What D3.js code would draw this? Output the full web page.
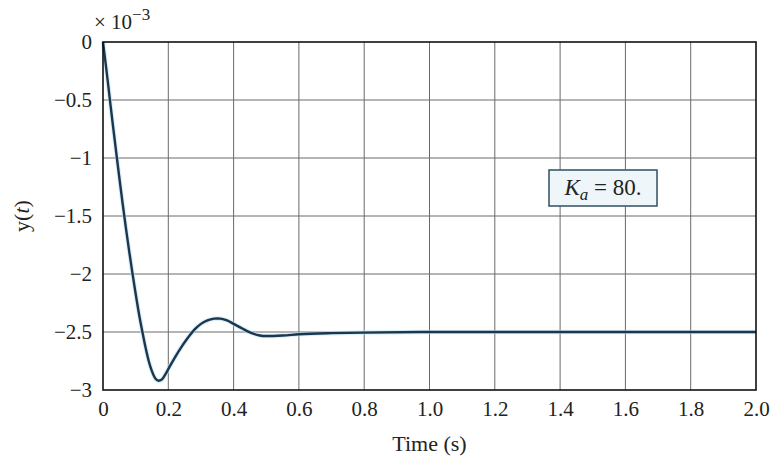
<!DOCTYPE html>
<html><head><meta charset="utf-8">
<script src="https://cdn.jsdelivr.net/npm/d3@7"></script>
<style>body{margin:0;background:#fff}</style>
</head><body>
<svg id="c" width="770" height="457"></svg>
<script>
const timeS = [0,0.01,0.02,0.03,0.04,0.05,0.06,0.07,0.08,0.09,0.10,0.11,0.12,0.13,0.14,0.15,0.16,0.17,0.18,0.19,0.20,0.22,0.24,0.26,0.28,0.30,0.32,0.34,0.35,0.36,0.38,0.40,0.42,0.44,0.46,0.48,0.50,0.55,0.60,0.70,0.80,1.0,1.5,2.0];
const yVals = [0,-0.23,-0.47,-0.71,-0.94,-1.17,-1.39,-1.60,-1.80,-1.99,-2.17,-2.34,-2.49,-2.63,-2.75,-2.84,-2.90,-2.92,-2.91,-2.87,-2.82,-2.72,-2.63,-2.55,-2.48,-2.43,-2.40,-2.385,-2.383,-2.385,-2.40,-2.43,-2.46,-2.49,-2.515,-2.53,-2.535,-2.53,-2.52,-2.51,-2.505,-2.5,-2.5,-2.5];
const xTicks = [0,0.2,0.4,0.6,0.8,1.0,1.2,1.4,1.6,1.8,2.0];
const xTickLabels = ["0","0.2","0.4","0.6","0.8","1.0","1.2","1.4","1.6","1.8","2.0"];
const yTicks = [0,-0.5,-1,-1.5,-2,-2.5,-3];
const yTickLabels = ["0","\u22120.5","\u22121","\u22121.5","\u22122","\u22122.5","\u22123"];
const annotation = {base:"K", sub:"a", rest:" = 80."};

const svg = d3.select("#c");
const L=103, R=756, T=42, B=390;
const x = d3.scaleLinear().domain([0,2]).range([L,R]);
const y = d3.scaleLinear().domain([-3,0]).range([B,T]);
const font = "Liberation Serif, Times New Roman, serif";

// grid
const g = svg.append("g");
g.selectAll(".vg").data(xTicks.slice(1,-1)).join("line")
  .attr("x1",d=>x(d)).attr("x2",d=>x(d)).attr("y1",T).attr("y2",B)
  .attr("stroke","#6a6a6a").attr("stroke-width",1);
g.selectAll(".hg").data(yTicks.slice(1,-1)).join("line")
  .attr("y1",d=>y(d)).attr("y2",d=>y(d)).attr("x1",L).attr("x2",R)
  .attr("stroke","#6a6a6a").attr("stroke-width",1);

// curve
const line = d3.line().x((d,i)=>x(timeS[i])).y(d=>y(d)).curve(d3.curveMonotoneX);
svg.append("path").datum(yVals).attr("d",line).attr("fill","none")
  .attr("stroke","#bfe3ec").attr("stroke-width",4.5).attr("opacity",0.6);
svg.append("path").datum(yVals).attr("d",line).attr("fill","none")
  .attr("stroke","#1b3650").attr("stroke-width",2.4);

// box
svg.append("rect").attr("x",L).attr("y",T).attr("width",R-L).attr("height",B-T)
  .attr("fill","none").attr("stroke","#111").attr("stroke-width",1.6);

// axes
const xa = d3.axisBottom(x).tickValues(xTicks).tickFormat((d,i)=>xTickLabels[i]).tickSize(0).tickPadding(11);
svg.append("g").attr("transform",`translate(0,${B})`).call(xa)
  .call(s=>s.select(".domain").remove())
  .selectAll("text").attr("font-family",font).attr("font-size",21).attr("fill","#222");
const ya = d3.axisLeft(y).tickValues(yTicks).tickFormat((d,i)=>yTickLabels[i]).tickSize(0).tickPadding(11);
svg.append("g").attr("transform",`translate(${L},0)`).call(ya)
  .call(s=>s.select(".domain").remove())
  .selectAll("text").attr("font-family",font).attr("font-size",21).attr("fill","#222");

// exponent
const ex = svg.append("text").attr("x",94).attr("y",29).attr("font-family",font).attr("font-size",21).attr("fill","#222");
ex.append("tspan").text("\u00d7 10");
ex.append("tspan").attr("dy",-9).attr("font-size",17).text("\u22123");

// labels
svg.append("text").attr("x",(L+R)/2).attr("y",451).attr("text-anchor","middle")
  .attr("font-family",font).attr("font-size",22).attr("fill","#222").text("Time (s)");
const yl = svg.append("text").attr("transform",`translate(29,${(T+B)/2}) rotate(-90)`).attr("text-anchor","middle")
  .attr("font-family",font).attr("font-size",22).attr("fill","#222");
yl.append("tspan").text("y(");
yl.append("tspan").attr("font-style","italic").text("t");
yl.append("tspan").text(")");

// annotation
svg.append("rect").attr("x",549).attr("y",170).attr("width",108).attr("height",36)
  .attr("fill","#eef6f9").attr("stroke","#3c5a6c").attr("stroke-width",1.6);
const at = svg.append("text").attr("x",603).attr("y",195).attr("text-anchor","middle")
  .attr("font-family",font).attr("font-size",23).attr("fill","#222");
at.append("tspan").attr("font-style","italic").text(annotation.base);
at.append("tspan").attr("font-style","italic").attr("font-size",17).attr("dy",5).text(annotation.sub);
at.append("tspan").attr("dy",-5).text(annotation.rest);
</script>
</body></html>
